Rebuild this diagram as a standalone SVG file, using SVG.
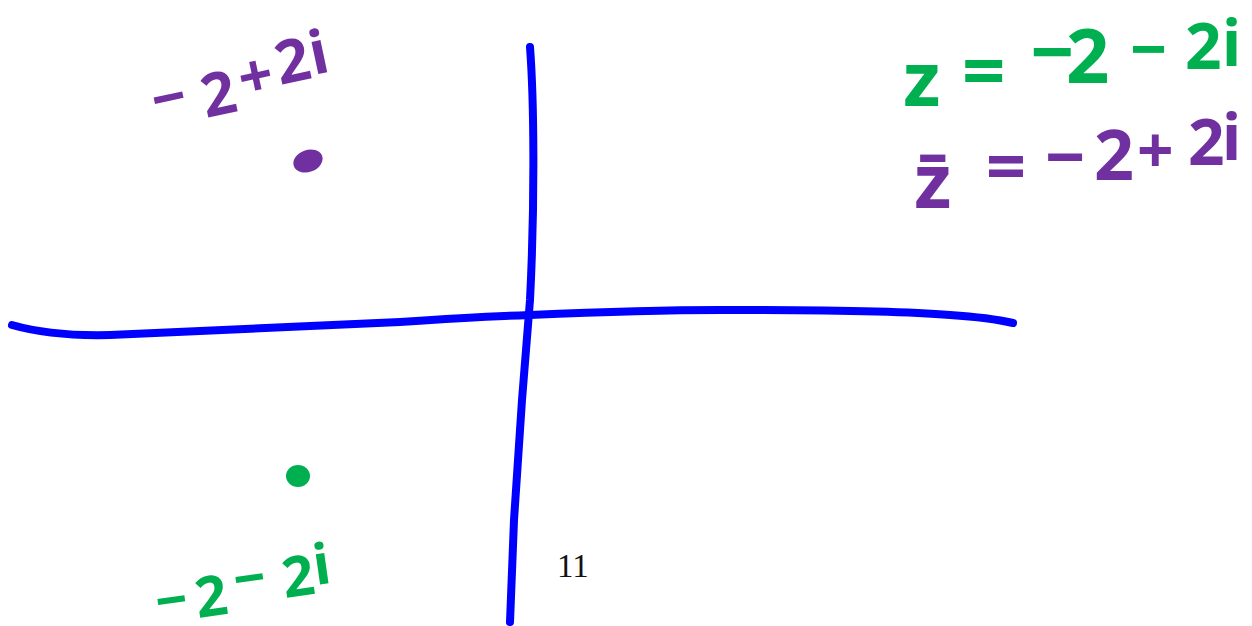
<svg xmlns="http://www.w3.org/2000/svg" width="1252" height="626" viewBox="0 0 1252 626">
<style>
.ax{fill:none;stroke:#0000ff;stroke-width:8;stroke-linecap:round;stroke-linejoin:round}
.hw{font-family:"Noto Sans","DejaVu Sans",sans-serif;font-weight:bold}
.g{fill:#00b050}
.p{fill:#7030a0}
</style>
<rect width="1252" height="626" fill="#ffffff"/>
<g id="axes">
<path class="ax" d="M12,325 C40,333 70,336 110,335 L400,322 C460,318 500,316 530,315 C600,312 650,310 720,310 C820,310 900,311 950,315 C980,317 1000,320 1013,323"/>
<path class="ax" d="M530,47 C534,100 535,200 530,300 L522,400 L514,520 L510,622"/>
</g>
<g id="point-conjugate">
<ellipse class="p" cx="308" cy="161" rx="15" ry="11" transform="rotate(-20 308 161)"/>
<text class="hw p" font-size="60" x="156 206 243 280 314" y="122 118 100 85 75" rotate="-12">−2+2i</text>
</g>
<g id="point-z">
<ellipse class="g" cx="298" cy="476" rx="12" ry="11"/>
<text class="hw g" font-size="56" x="158 198 236 285 316" y="622 618 600 598 585" rotate="-8">−2−2i</text>
</g>
<g id="eq-z">
<text class="hw g" font-size="76" x="903" y="106">z</text>
<text class="hw g" font-size="76" x="962" y="97">=</text>
<text class="hw g" font-size="76" x="1030 1066" y="79 83">−2</text>
<text class="hw g" font-size="64" x="1130 1185 1222" y="72 69 66">−2i</text>
</g>
<g id="eq-zbar">
<text class="hw p" font-size="76" x="914" y="208">z̄</text>
<text class="hw p" font-size="70" x="986" y="191">=</text>
<text class="hw p" font-size="70" x="1045 1094" y="182 180">−2</text>
<text class="hw p" font-size="64" x="1137 1188 1222" y="173 165 160">+2i</text>
</g>
<g id="page-number">
<text x="557" y="577" font-family="Liberation Serif,serif" font-size="33" fill="#111">11</text>
</g>
</svg>
